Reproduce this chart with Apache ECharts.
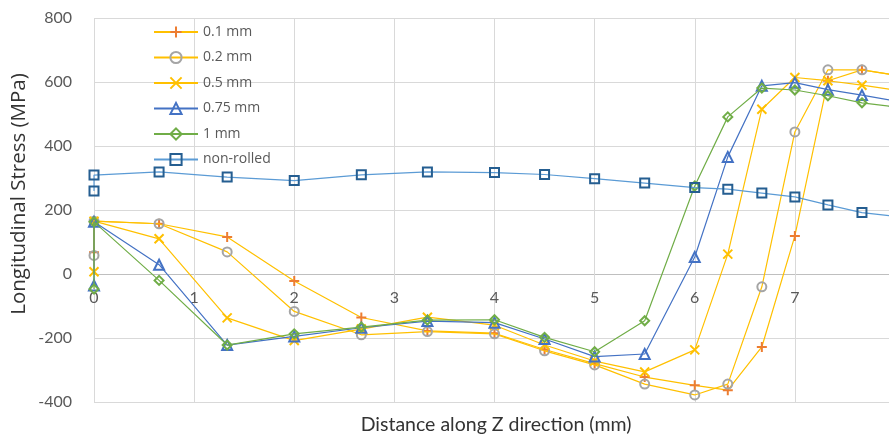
<!DOCTYPE html>
<html><head><meta charset="utf-8">
<script src="https://cdn.jsdelivr.net/npm/echarts@6/dist/echarts.min.js"></script>
<style>html,body{margin:0;padding:0;background:#fff}#c{width:889px;height:439px}</style>
</head><body><div id="c"></div>
<script>
// Distance along Z (mm); first two points both at 0
const xValues = [0, 0, 0.65, 1.33, 2, 2.67, 3.33, 4, 4.5, 5, 5.5, 6, 6.33, 6.67, 7, 7.33, 7.67, 8];
const seriesNames = ['0.1 mm', '0.2 mm', '0.5 mm', '0.75 mm', '1 mm', 'non-rolled'];
const s01 = [68, 165, 157, 116, -22, -136, -178, -185, -236, -280, -322, -348, -363, -228, 119, 604, 638, 622];
const s02 = [58, 165, 157, 69, -117, -190, -180, -187, -240, -284, -344, -378, -344, -40, 444, 638, 638, 622];
const s05 = [7, 165, 110, -137, -208, -172, -135, -160, -222, -272, -306, -237, 62, 515, 614, 604, 590, 575];
const s075 = [-36, 163, 29, -222, -195, -168, -147, -152, -203, -258, -250, 53, 366, 588, 598, 576, 559, 541];
const s1 = [-47, 163, -20, -222, -187, -166, -144, -143, -198, -243, -146, 275, 491, 581, 575, 557, 535, 522];
const sNonRolled = [259, 309, 319, 303, 292, 310, 319, 317, 311, 298, 284, 270, 265, 253, 241, 216, 192, 180];
const yTicks = [-400, -200, 0, 200, 400, 600, 800];
const xTicks = [0, 1, 2, 3, 4, 5, 6, 7, 8];

const allY = [s01, s02, s05, s075, s1, sNonRolled];
const plusPath = 'path://M5,0L5,10M0,5L10,5';
const crossPath = 'path://M0,0L10,10M10,0L0,10';
const styles = [
  {line: '#FFC000', mark: '#ED7D31', symbol: plusPath, size: 10},
  {line: '#FFC000', mark: '#A5A5A5', symbol: 'circle', size: 9},
  {line: '#FFC000', mark: '#FFC000', symbol: crossPath, size: 9},
  {line: '#4472C4', mark: '#4472C4', symbol: 'triangle', size: 10},
  {line: '#70AD47', mark: '#70AD47', symbol: 'diamond', size: 9},
  {line: '#5B9BD5', mark: '#255E91', symbol: 'rect', size: 9}
];

const chart = echarts.init(document.getElementById('c'), null, {renderer: 'canvas'});
const series = allY.map((ys, k) => ({
  name: seriesNames[k],
  type: 'line',
  data: xValues.map((x, i) => [x, ys[i]]),
  symbol: styles[k].symbol,
  symbolSize: styles[k].size,
  showAllSymbol: true,
  lineStyle: {color: styles[k].line, width: 1.2},
  itemStyle: {color: 'rgba(255,255,255,0)', borderColor: styles[k].mark, borderWidth: 2},
  emphasis: {disabled: true},
  clip: true,
  z: 2 + k
}));

// gridline colours per y tick (-400 ... 800): the zero line is darker
const ySplitColors = yTicks.map(v => v === 0 ? '#BFBFBF' : '#D9D9D9');

chart.setOption({
  animation: false,
  backgroundColor: '#fff',
  grid: {left: 94, right: -6, top: 18, bottom: 37, containLabel: false, outerBoundsMode: 'none'},
  xAxis: {
    type: 'value', min: xTicks[0], max: xTicks[xTicks.length - 1], interval: 1,
    axisLine: {show: false, onZero: false},
    axisTick: {show: false},
    axisLabel: {margin: -112, color: '#595959', fontFamily: 'Lato', fontSize: 16},
    splitLine: {show: true, lineStyle: {color: '#D9D9D9', width: 1}}
  },
  yAxis: {
    type: 'value', min: yTicks[0], max: yTicks[yTicks.length - 1], interval: 200,
    axisLine: {show: false},
    axisTick: {show: false},
    axisLabel: {margin: 22, color: '#595959', fontFamily: 'Lato', fontSize: 16},
    splitLine: {show: true, lineStyle: {color: ySplitColors, width: 1}}
  },
  legend: {
    orient: 'vertical', left: 153, top: 25, padding: 0,
    itemWidth: 44, itemHeight: 14, itemGap: 11.5,
    textStyle: {fontFamily: 'Open Sans', fontSize: 14, color: '#595959', lineHeight: 14},
    data: seriesNames
  },
  graphic: [
    {type: 'text', x: 496, y: 425,
     style: {text: 'Distance along Z direction (mm)', font: '19.5px Lato', fill: '#333', textAlign: 'center', textVerticalAlign: 'middle'}},
    {type: 'text', x: 19, y: 194, rotation: Math.PI / 2,
     style: {text: 'Longitudinal Stress (MPa)', font: '20.5px "Open Sans"', fill: '#333', textAlign: 'center', textVerticalAlign: 'middle'}}
  ],
  series: series
});
</script>
</body></html>
